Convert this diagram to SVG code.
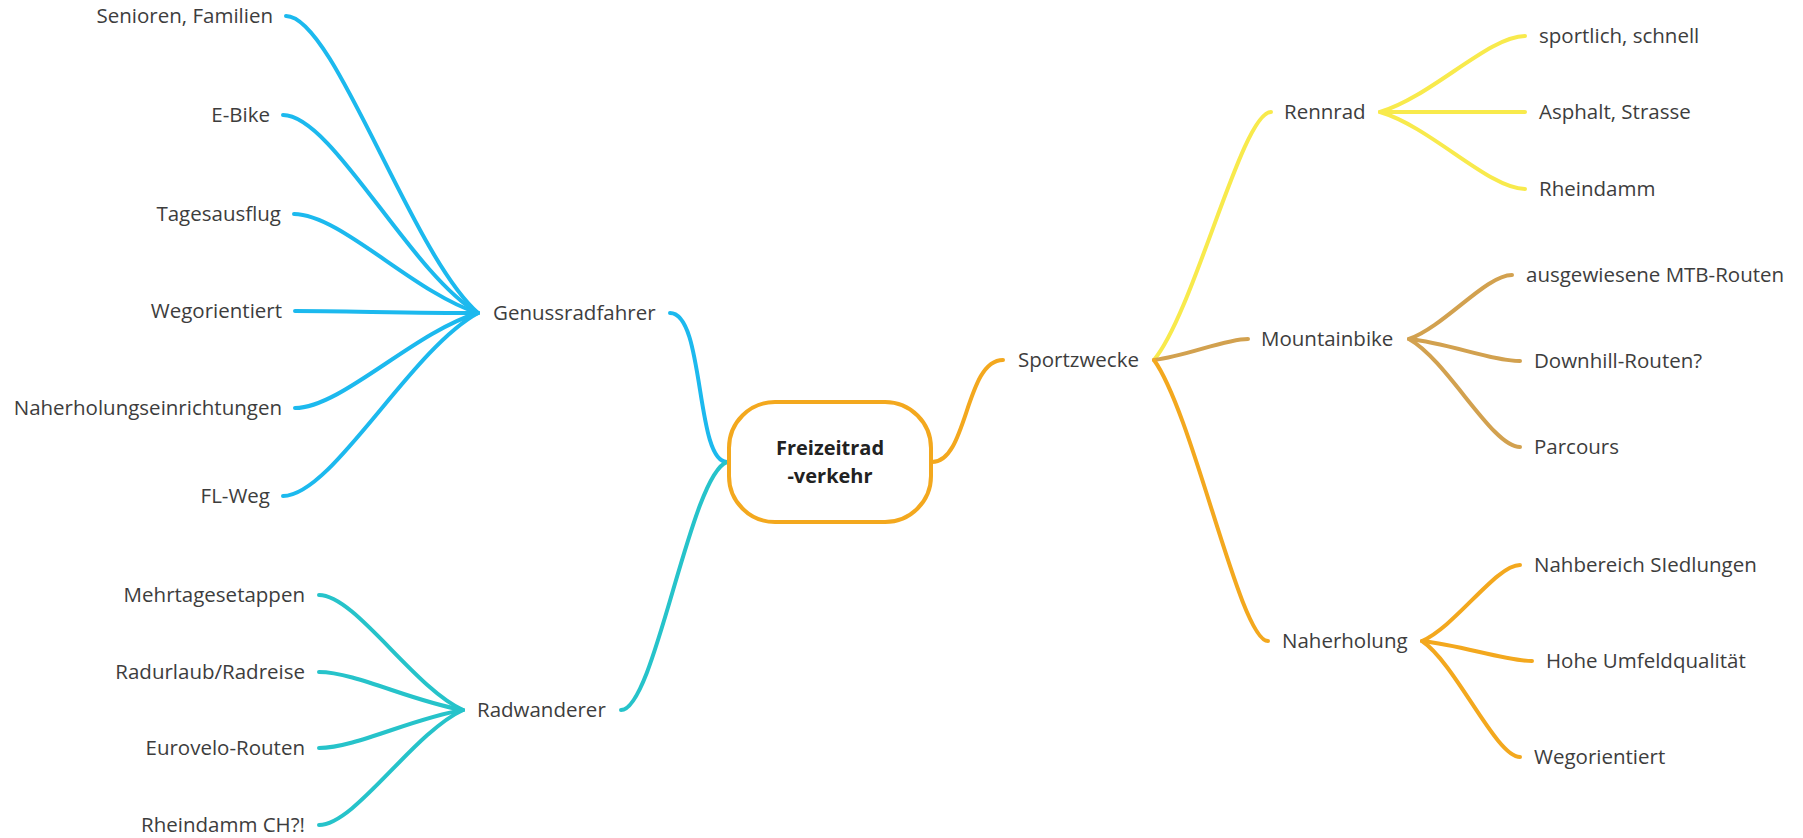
<svg xmlns="http://www.w3.org/2000/svg" width="1803" height="838" viewBox="0 0 1803 838">
<style>
.bg{fill:#ffffff}
text{font-family:"Open Sans","Noto Sans","Liberation Sans",sans-serif;font-size:20.5px;fill:#3d3d3d}
.l{text-anchor:end}
.c{font-weight:bold;font-size:20px;fill:#222;text-anchor:middle}
.ln{fill:none;stroke-width:4;stroke-linecap:round}
.blue{stroke:#1cb9ee}
.teal{stroke:#26c3ca}
.orange{stroke:#f3a81e}
.yellow{stroke:#f8ea4c}
.tan{stroke:#d2a14f}
</style>
<rect class="bg" x="0" y="0" width="1803" height="838"/>
<g id="connectors">
<path class="ln blue" d="M670,313 C705,313 695,462 727,462"/>
<path class="ln teal" d="M621,710 C655,710 690,475 727,462"/>
<path class="ln orange" d="M932,462 C968,462 965,360 1003,360"/>
<path class="ln blue" d="M286,16 C334,16 411,254 478,313"/>
<path class="ln blue" d="M283,115 C332,115 410,273 478,313"/>
<path class="ln blue" d="M294,214 C340,214 414,293 478,313"/>
<path class="ln blue" d="M295,311 C341,311 414,313 478,313"/>
<path class="ln blue" d="M295,408 C341,408 414,332 478,313"/>
<path class="ln blue" d="M283,496 C332,496 410,350 478,313"/>
<path class="ln teal" d="M319,595 C355,595 413,687 463,710"/>
<path class="ln teal" d="M319,672 C355,672 413,702 463,710"/>
<path class="ln teal" d="M319,748 C355,748 413,718 463,710"/>
<path class="ln teal" d="M319,825 C355,825 413,733 463,710"/>
<path class="ln yellow" d="M1154,360 C1195,310 1242,112 1271,112"/>
<path class="ln tan" d="M1154,360 C1187,356 1225,339 1248,339"/>
<path class="ln orange" d="M1154,360 C1194,416 1240,641 1268,641"/>
<path class="ln yellow" d="M1380,112 C1431,97 1489,36 1525,36"/>
<path class="ln yellow" d="M1380,112 L1525,112"/>
<path class="ln yellow" d="M1380,112 C1431,127 1489,189 1525,189"/>
<path class="ln tan" d="M1409,339 C1445,326 1486,275 1512,275"/>
<path class="ln tan" d="M1409,339 C1448,343 1492,361 1520,361"/>
<path class="ln tan" d="M1409,339 C1448,361 1492,447 1520,447"/>
<path class="ln orange" d="M1422,641 C1456,626 1496,565 1520,565"/>
<path class="ln orange" d="M1422,641 C1461,645 1505,661 1532,661"/>
<path class="ln orange" d="M1422,641 C1456,664 1496,757 1520,757"/>
</g>
<g id="center">
<rect x="729" y="402" width="202" height="120" rx="46" ry="46" fill="#fff" stroke="#f3a81e" stroke-width="4"/>
<text class="c" x="830" y="455">Freizeitrad</text>
<text class="c" x="830" y="483">-verkehr</text>
</g>
<g id="genussradfahrer"><text x="493" y="320">Genussradfahrer</text></g>
<g id="senioren"><text class="l" x="273" y="23">Senioren, Familien</text></g>
<g id="ebike"><text class="l" x="270" y="122">E-Bike</text></g>
<g id="tagesausflug"><text class="l" x="281" y="221">Tagesausflug</text></g>
<g id="wegorientiert-l"><text class="l" x="282" y="318">Wegorientiert</text></g>
<g id="naherholungseinrichtungen"><text class="l" x="282" y="415">Naherholungseinrichtungen</text></g>
<g id="flweg"><text class="l" x="270" y="503">FL-Weg</text></g>
<g id="radwanderer"><text x="477" y="717">Radwanderer</text></g>
<g id="mehrtagesetappen"><text class="l" x="305" y="602">Mehrtagesetappen</text></g>
<g id="radurlaub"><text class="l" x="305" y="679">Radurlaub/Radreise</text></g>
<g id="eurovelo"><text class="l" x="305" y="755">Eurovelo-Routen</text></g>
<g id="rheindammch"><text class="l" x="305" y="832">Rheindamm CH?!</text></g>
<g id="sportzwecke"><text x="1018" y="367">Sportzwecke</text></g>
<g id="rennrad"><text x="1284" y="119">Rennrad</text></g>
<g id="sportlich"><text x="1539" y="43">sportlich, schnell</text></g>
<g id="asphalt"><text x="1539" y="119">Asphalt, Strasse</text></g>
<g id="rheindamm"><text x="1539" y="196">Rheindamm</text></g>
<g id="mountainbike"><text x="1261" y="346">Mountainbike</text></g>
<g id="mtbrouten"><text x="1526" y="282">ausgewiesene MTB-Routen</text></g>
<g id="downhill"><text x="1534" y="368">Downhill-Routen?</text></g>
<g id="parcours"><text x="1534" y="454">Parcours</text></g>
<g id="naherholung"><text x="1282" y="648">Naherholung</text></g>
<g id="nahbereich"><text x="1534" y="572">Nahbereich SIedlungen</text></g>
<g id="hohe"><text x="1546" y="668">Hohe Umfeldqualität</text></g>
<g id="wegorientiert-r"><text x="1534" y="764">Wegorientiert</text></g>
</svg>
